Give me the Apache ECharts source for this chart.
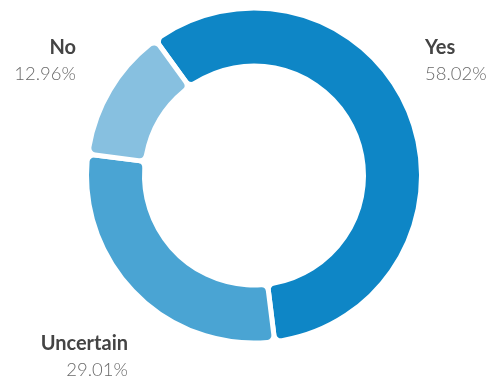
<!DOCTYPE html>
<html>
<head>
<meta charset="utf-8">
<script src="https://cdn.jsdelivr.net/npm/echarts@6/dist/echarts.min.js"></script>
<style>
  html, body { margin: 0; padding: 0; background: #fff; }
  #chart { width: 495px; height: 382px; }
</style>
</head>
<body>
<div id="chart"></div>
<script>
// Survey answers, in clockwise order starting near the top
const categories = ['Yes', 'Uncertain', 'No'];
const shares = [58.02, 29.01, 12.96];

const sliceColors = ['#0e86c6', '#4aa4d3', '#87c0e0'];

// Where each answer's caption sits: [x, y(centre of block), text alignment]
const captionSpots = {
  Yes: [425, 61, 'left'],
  No: [76, 61, 'right'],
  Uncertain: [128, 357, 'right']
};

function richFor(align) {
  return {
    n: { fontFamily: 'Lato', fontWeight: 'bold', fontSize: 20, color: '#444444', lineHeight: 27, align: align },
    p: { fontFamily: 'Lato', fontWeight: 300, fontSize: 18.5, color: '#6a6a6a', lineHeight: 27, align: align }
  };
}

const seriesData = categories.map((name, i) => ({
  name: name,
  value: shares[i],
  itemStyle: { color: sliceColors[i] },
  label: { rich: richFor(captionSpots[name][2]) }
}));

const chart = echarts.init(document.getElementById('chart'), null, { renderer: 'canvas' });

chart.setOption({
  animation: false,
  series: [{
    type: 'pie',
    center: [254, 175.5],
    radius: [109.5, 167.5],
    startAngle: 126,
    clockwise: true,
    avoidLabelOverlap: false,
    itemStyle: {
      borderColor: '#ffffff',
      borderWidth: 5,
      borderRadius: 7
    },
    label: {
      show: true,
      position: 'outside',
      formatter: '{n|{b}}\n{p|{c}%}'
    },
    labelLine: { show: false },
    labelLayout: function (params) {
      const spot = captionSpots[categories[params.dataIndex]];
      return { x: spot[0], y: spot[1], align: spot[2], verticalAlign: 'middle' };
    },
    emphasis: { disabled: true },
    data: seriesData
  }]
});
</script>
</body>
</html>
